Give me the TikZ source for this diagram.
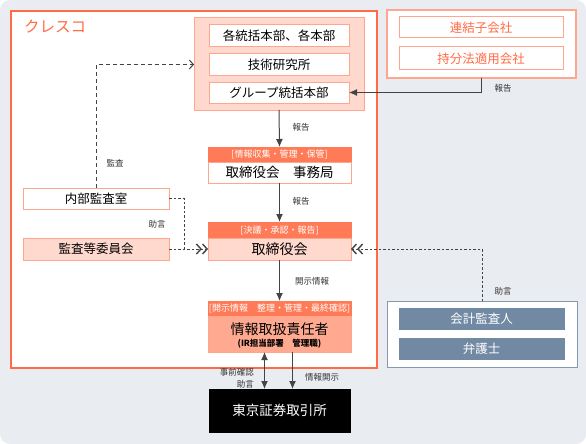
\documentclass[tikz,border=0pt]{standalone}
\usepackage{fontspec}
\setmainfont{Noto Sans CJK JP}
\usetikzlibrary{arrows.meta}
\definecolor{bgc}{HTML}{E9ECF1}
\definecolor{org}{HTML}{FF6B45}
\definecolor{salm}{HTML}{FFD9CE}
\definecolor{salmb}{HTML}{FFA68E}
\definecolor{hdr}{HTML}{FF7B57}
\definecolor{ibody}{HTML}{FFAA90}
\definecolor{slate}{HTML}{7189A3}
\definecolor{slateb}{HTML}{8699B0}
\definecolor{lbl}{HTML}{333333}
\definecolor{arr}{HTML}{444444}
\tikzset{
  box/.style={inner sep=0pt, outer sep=0pt, draw=salmb, line width=1pt, align=center, font=\fontsize{12.5}{14}\selectfont},
  hdrbox/.style={inner sep=0pt, outer sep=0pt, fill=hdr, draw=hdr, line width=1pt, text=white, font=\fontsize{9}{10}\selectfont},
  lab/.style={text=lbl, font=\fontsize{8.5}{10}\selectfont, inner sep=0pt},
  solidarr/.style={draw=arr, line width=1pt, -{Latex[length=8pt,width=7pt]}},
  dasharr/.style={draw=arr, line width=0.9pt, dash pattern=on 4pt off 3pt, -{Straight Barb[length=4pt,width=9pt,line width=1pt]}},
  dotline/.style={draw=arr, line width=0.9pt, dash pattern=on 2.5pt off 2pt},
  dblarr/.style={dotline, -{Straight Barb[length=4.5pt,width=10pt,line width=1.4pt]Straight Barb[length=4.5pt,width=10pt,line width=1.4pt]}},
}
\begin{document}
\begin{tikzpicture}[x=1pt,y=-1pt]
\useasboundingbox (0,0) rectangle (586,444);
\fill[bgc, rounded corners=10pt] (0,0) rectangle (586,444);
% main company box
\node[draw=org, fill=white, line width=2pt, inner sep=0pt, minimum width=366pt, minimum height=357pt] (cresco) at (194,189.5) {};
\node[text=org, font=\fontsize{15.5}{16}\selectfont, inner sep=0pt] (crescolbl) at (55,27) {クレスコ};
% top group
\node[box, fill=salm, minimum width=170pt, minimum height=92pt] (grp) at (279,64) {};
\node[box, fill=white, minimum width=140pt, minimum height=22pt] (b1) at (279,36) {各統括本部、各本部};
\node[box, fill=white, minimum width=140pt, minimum height=21pt] (b2) at (279,64.5) {技術研究所};
\node[box, fill=white, minimum width=140pt, minimum height=21pt] (b3) at (279,92.5) {グループ統括本部};
% right top
\node[box, fill=white, line width=1.5pt, minimum width=189pt, minimum height=68pt] (rt) at (481.5,44) {};
\node[box, fill=white, text=org, minimum width=164pt, minimum height=21pt] (r1) at (481,27.5) {連結子会社};
\node[box, fill=white, text=org, minimum width=164pt, minimum height=23pt] (r2) at (481,58.5) {持分法適用会社};
% jimukyoku
\node[hdrbox, minimum width=143pt, minimum height=15pt] (jh) at (279.5,154.5) {[情報収集・管理・保管]};
\node[box, fill=white, minimum width=143pt, minimum height=21pt, font=\fontsize{13.5}{15}\selectfont] (jb) at (279.5,172.5) {取締役会　事務局};
% torishimariyakukai
\node[hdrbox, minimum width=143pt, minimum height=16pt] (th) at (279.5,230) {[決議・承認・報告]};
\node[box, fill=salm, minimum width=143pt, minimum height=22pt, font=\fontsize{14}{15}\selectfont] (tb) at (279.5,249) {取締役会};
% info officer
\node[hdrbox, minimum width=143pt, minimum height=15pt] (ih) at (279.5,308.5) {[開示情報　整理・管理・最終確認]};
\node[box, fill=ibody, minimum width=143pt, minimum height=36pt] (ib) at (279.5,334) {};
\node[inner sep=0pt, font=\fontsize{14}{15}\selectfont] (ibt) at (279.5,329) {情報取扱責任者};
\node[inner sep=0pt, font=\fontsize{8.5}{9}\selectfont\bfseries] (ibs) at (279.5,343.5) {(IR担当部署　管理職)};
% left boxes
\node[box, fill=white, minimum width=146pt, minimum height=21pt] (naibu) at (96,198.5) {内部監査室};
\node[box, fill=salm, minimum width=146pt, minimum height=22pt] (kansa) at (96,249) {監査等委員会};
% auditors
\node[box, draw=slateb, fill=white, minimum width=190pt, minimum height=66pt] (aud) at (482,334) {};
\node[box, draw=slate, fill=slate, text=white, minimum width=165pt, minimum height=21pt] (a1) at (481.5,318.5) {会計監査人};
\node[box, draw=slate, fill=slate, text=white, minimum width=165pt, minimum height=21pt] (a2) at (481.5,348.5) {弁護士};
% TSE
\node[box, draw=black, fill=black, text=white, minimum width=141pt, minimum height=43pt, font=\fontsize{13.5}{15}\selectfont] (tse) at (279.5,410.5) {東京証券取引所};
% connectors
\draw[solidarr] (grp.south) -- (jh.north);
\draw[solidarr] (jb.south) -- (th.north);
\draw[solidarr] (tb.south) -- (ih.north);
\draw[solidarr] (rt.south) |- (b3.east);
\draw[dasharr] (naibu.north) |- (grp.west |- b2.center);
\coordinate (jn) at (184,249);
\draw[dotline] (naibu.east) -| (jn);
\draw[dblarr] (kansa.east) -- (tb.west);
\draw[dblarr] (aud.north) |- (tb.east);
\draw[draw=arr, line width=1pt, {Latex[length=8pt,width=7pt]}-{Latex[length=8pt,width=7pt]}] ([xshift=-15pt]ib.south) -- ([xshift=-15pt]tse.north);
\draw[solidarr] ([xshift=13pt]ib.south) -- ([xshift=13pt]tse.north);
% labels
\node[lab] (l1) at (301,127) {報告};
\node[lab] (l2) at (301,201) {報告};
\node[lab] (l3) at (312,281) {開示情報};
\node[lab] (l4) at (115,163) {監査};
\node[lab] (l5) at (157,224) {助言};
\node[lab] (l6) at (503,88) {報告};
\node[lab] (l7) at (503,291) {助言};
\node[lab, anchor=east] (l8) at (254,372) {事前確認};
\node[lab, anchor=east] (l9) at (254,384) {助言};
\node[lab] (l10) at (322,377) {情報開示};
\end{tikzpicture}
\end{document}
